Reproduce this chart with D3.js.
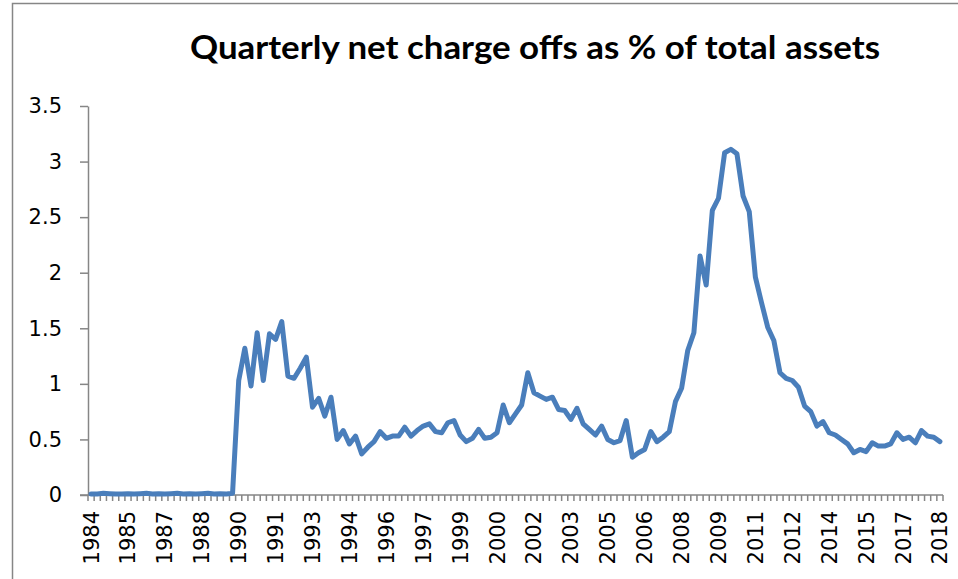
<!DOCTYPE html>
<!-- quarterly net charge offs line chart, excel style -->
<html>
<head>
<meta charset="utf-8">
<style>
  body { margin: 0; background: #fff; }
  #chart text { fill: #000; }
</style>
</head>
<body>
<div id="chart"></div>

<script src="https://cdn.jsdelivr.net/npm/d3@7"></script>

<script>

// quarters 1984 Q1 .. 2018 Q3
let quarters = [];
for (let yr = 1984; yr <= 2018; yr++) {
  for (let q = 1; q <= 4; q++) {
    if (yr === 2018 && q > 3) break;
    quarters.push(yr + "Q" + q);
  }
}

// one year label every 6 quarters, as excel shows them
let tick_labels = ["1984", "1985", "1987", "1988", "1990", "1991", "1993", "1994",
  "1996", "1997", "1999", "2000", "2002", "2003", "2005", "2006", "2008", "2009",
  "2011", "2012", "2014", "2015", "2017", "2018"];

let y_ticks = [0, 0.5, 1, 1.5, 2, 2.5, 3, 3.5];

// net charge offs, % of total assets
let charge_offs = [
  0.01, 0.01, 0.015, 0.012, 0.01, 0.01, 0.012, 0.01, 0.012, 0.015, 0.01, 0.012,
  0.01, 0.012, 0.015, 0.01, 0.012, 0.01, 0.012, 0.015, 0.01, 0.012, 0.01, 0.015,
  1.03, 1.32, 0.98, 1.46, 1.03, 1.45, 1.40, 1.56, 1.07, 1.05, 1.14, 1.24,
  0.79, 0.87, 0.71, 0.88, 0.50, 0.58, 0.46, 0.53, 0.37, 0.43, 0.48, 0.57,
  0.51, 0.53, 0.53, 0.61, 0.53, 0.58, 0.62, 0.64, 0.57, 0.56, 0.65, 0.67,
  0.54, 0.48, 0.51, 0.59, 0.51, 0.52, 0.56, 0.81, 0.65, 0.73, 0.81, 1.10,
  0.92, 0.89, 0.86, 0.88, 0.77, 0.76, 0.68, 0.78, 0.64, 0.59, 0.54, 0.62,
  0.50, 0.47, 0.49, 0.67, 0.34, 0.38, 0.41, 0.57, 0.48, 0.52, 0.57, 0.84,
  0.96, 1.30, 1.46, 2.15, 1.89, 2.56, 2.67, 3.08, 3.11, 3.07, 2.69, 2.55,
  1.96, 1.73, 1.51, 1.39, 1.10, 1.05, 1.03, 0.97, 0.80, 0.75, 0.62, 0.66,
  0.56, 0.54, 0.50, 0.46, 0.38, 0.41, 0.39, 0.47, 0.44, 0.44, 0.46, 0.56,
  0.50, 0.52, 0.47, 0.58, 0.53, 0.52, 0.48
];

let width = 958,
    height = 579,
    margin = {top: 106, right: 15, bottom: 84, left: 88};

let svg = d3.select("#chart")
  .append("svg")
    .attr("width", width)
    .attr("height", height);

// chart area border (excel chart frame)
svg.append("rect")
    .attr("x", 12.5)
    .attr("y", 3.5)
    .attr("width", width)
    .attr("height", height)
    .attr("fill", "none")
    .attr("stroke", "#868686")
    .attr("stroke-width", 1.5);

svg.append("text")
    .attr("x", 535)
    .attr("y", 59)
    .attr("text-anchor", "middle")
    .attr("font-family", "Lato, 'Open Sans', sans-serif")
    .attr("font-weight", "bold")
    .attr("font-size", 33)
    .attr("textLength", 690)
    .attr("lengthAdjust", "spacingAndGlyphs")
    .text("Quarterly net charge offs as % of total assets");

let x = d3.scalePoint()
  .domain(quarters)
  .range([margin.left, width - margin.right])
  .padding(0.5);

let y = d3.scaleLinear()
  .domain([0, 3.5])
  .range([height - margin.bottom, margin.top]);

let step = x.step();

// y axis
let y_axis = svg.append("g")
    .attr("transform", "translate(" + margin.left + ",0)")
    .call(d3.axisLeft(y).tickValues(y_ticks).tickSize(8).tickSizeOuter(0).tickPadding(18)
      .tickFormat(d3.format("")));
y_axis.selectAll("path, line").attr("stroke", "#868686").attr("stroke-width", 1.5);
y_axis.selectAll("text")
    .attr("font-family", "'DejaVu Sans', sans-serif")
    .attr("font-size", 21);

// x axis: line, tick marks between quarters
let x_axis = svg.append("g").attr("id", "x_axis");
let y0 = y(0);
x_axis.append("line")
    .attr("x1", margin.left - 8)
    .attr("x2", width - margin.right)
    .attr("y1", y0)
    .attr("y2", y0)
    .attr("stroke", "#868686")
    .attr("stroke-width", 1.5);
x_axis.selectAll(".qtick")
  .data(quarters.concat(["end"]))
  .enter()
  .append("line")
    .attr("class", "qtick")
    .attr("x1", function(d, i){ return margin.left + i * step; })
    .attr("x2", function(d, i){ return margin.left + i * step; })
    .attr("y1", y0)
    .attr("y2", y0 + 6)
    .attr("stroke", "#868686")
    .attr("stroke-width", 1.5);

x_axis.selectAll(".xlabel")
  .data(tick_labels)
  .enter()
  .append("text")
    .attr("class", "xlabel")
    .attr("transform", function(d, i){
      return "translate(" + (x(quarters[i * 6]) + 7.5) + "," + (y0 + 16) + ") rotate(-90)";
    })
    .attr("text-anchor", "end")
    .attr("font-family", "'DejaVu Sans', sans-serif")
    .attr("font-size", 21)
    .text(function(d){ return d; });

// the series
let line = d3.line()
  .x(function(d, i){ return x(quarters[i]); })
  .y(function(d){ return y(d); });

svg.append("path")
    .datum(charge_offs)
    .attr("d", line)
    .attr("fill", "none")
    .attr("stroke", "#4a7ebb")
    .attr("stroke-width", 5)
    .attr("stroke-linejoin", "round")
    .attr("stroke-linecap", "round");

</script>
</body>
</html>
